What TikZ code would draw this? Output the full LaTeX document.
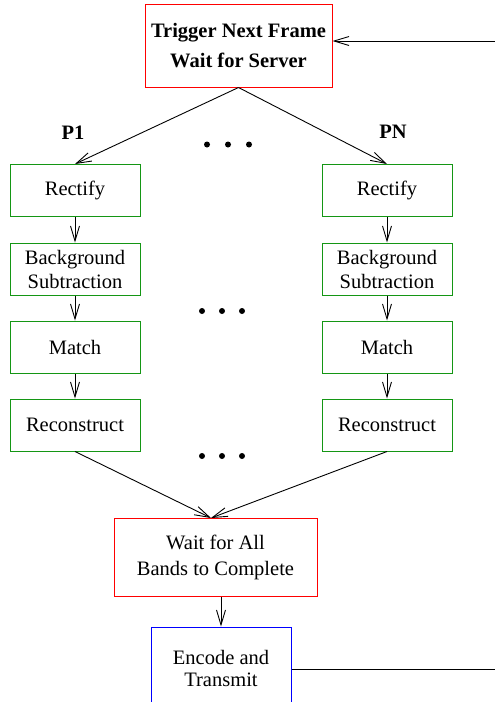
\documentclass[tikz,border=0pt]{standalone}
\usepackage{fontspec}
\setmainfont{Liberation Serif}
\usetikzlibrary{arrows.meta}
\definecolor{boxred}{RGB}{255,0,0}
\definecolor{boxgreen}{RGB}{20,150,20}
\definecolor{boxblue}{RGB}{0,0,255}
\tikzset{
  box/.style={draw, rectangle, line width=1pt, inner sep=0pt, align=center},
  stage/.style={box, draw=boxgreen, minimum width=130pt, minimum height=52pt, font=\fontsize{20.5}{24}\selectfont},
  arr/.style={line width=0.9pt, -{Straight Barb[length=15pt,width=9pt,line width=0.9pt]}},
  plain/.style={line width=0.9pt},
  dotpt/.style={fill=black, circle, inner sep=0pt, minimum size=6pt},
  plabel/.style={font=\bfseries\fontsize{20.5}{24}\selectfont}
}
\begin{document}
\begin{tikzpicture}[x=1pt,y=-1pt]
\path[use as bounding box, clip] (0,0) rectangle (495,702);
\fill[white] (0,0) rectangle (495,702);

\node[box, draw=boxred, minimum width=187pt, minimum height=83pt, font=\bfseries\fontsize{20.5}{30}\selectfont] (top) at (238.5,45.5) {Trigger Next Frame\\Wait for Server};

\node[plabel] (p1) at (73,133) {P1};
\node[plabel] (pn) at (393,132) {PN};

\node[stage] (rl) at (75,190.5) {Rectify};
\node[stage] (bl) at (75,269) {Background\\Subtraction};
\node[stage] (ml) at (75,347) {Match};
\node[stage] (cl) at (75,425) {Reconstruct};

\node[stage] (rr) at (387,190.5) {Rectify};
\node[stage] (br) at (387,269) {Background\\Subtraction};
\node[stage] (mr) at (387,347) {Match};
\node[stage] (cr) at (387,425) {Reconstruct};

\node[dotpt] (d1) at (207,144.5) {};
\node[dotpt] (d2) at (228,144.5) {};
\node[dotpt] (d3) at (249,144.5) {};
\node[dotpt] (d4) at (202,311) {};
\node[dotpt] (d5) at (222,311) {};
\node[dotpt] (d6) at (242,311) {};
\node[dotpt] (d7) at (202,456) {};
\node[dotpt] (d8) at (222,456) {};
\node[dotpt] (d9) at (242,456) {};

\node[box, draw=boxred, minimum width=203pt, minimum height=78pt, font=\fontsize{20.5}{26}\selectfont] (wait) at (215.5,557) {Wait for All\\Bands to Complete};
\node[box, draw=boxblue, minimum width=140pt, minimum height=82pt, font=\fontsize{20.5}{22}\selectfont] (enc) at (221,668) {Encode and\\Transmit};

\coordinate (conv) at (211,518);
\coordinate (fbA) at (520,669);
\coordinate (fbB) at (520,41);

\draw[arr] (top.south) -- (rl.north);
\draw[arr] (top.south) -- (rr.north);

\draw[arr] (rl) -- (bl);
\draw[arr] (bl) -- (ml);
\draw[arr] (ml) -- (cl);
\draw[arr] (rr) -- (br);
\draw[arr] (br) -- (mr);
\draw[arr] (mr) -- (cr);

\draw[arr] (cl.south) -- (conv);
\draw[arr] (cr.south) -- (conv);

\draw[arr] (enc.north |- wait.south) -- (enc.north);

\draw[plain] (enc.east |- fbA) -- (fbA) -- (fbB);
\draw[arr] (fbB) -- (top.east |- fbB);
\end{tikzpicture}
\end{document}
